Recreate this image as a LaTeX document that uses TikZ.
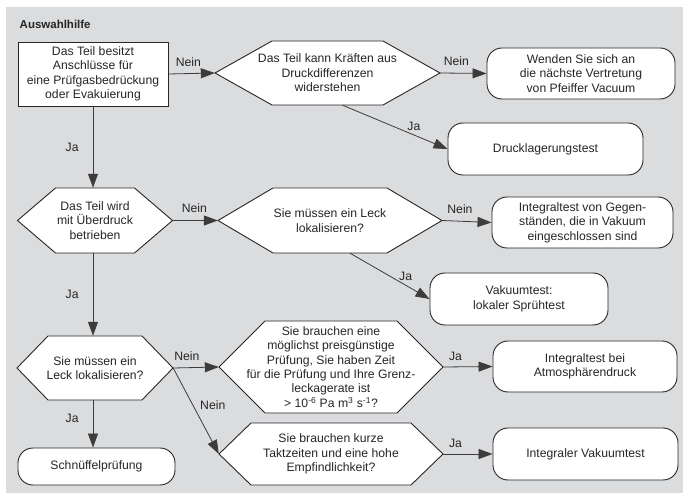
\documentclass[tikz,border=0pt]{standalone}
\usepackage{fontspec}
\setmainfont{Liberation Sans}
\usepackage{tikz}
\usetikzlibrary{arrows.meta, positioning, calc}
\definecolor{panelGray}{RGB}{219, 220, 222}
\definecolor{inkGray}{RGB}{38, 38, 38}
\definecolor{lineGray}{RGB}{60, 60, 60}

% hexagon: name, centre x, centre y, width, height, slant, text
\newcommand{\hexnode}[7]{%
  \filldraw[hexline] ({#2-#4/2},#3) -- ++(#6,{-#5/2}) -- ++({#4-2*#6},0)
    -- ++(#6,{#5/2}) -- ++({-#6},{#5/2}) -- ++({-(#4-2*#6)},0) -- cycle;
  \node[decision, minimum width=#4pt, minimum height=#5pt] (#1) at (#2,#3) {#7};
}

\begin{document}
\begin{tikzpicture}[
    x=1pt, y=-1pt,
    font=\fontsize{12.2}{14.4}\selectfont,
    every node/.style={text=inkGray},
    hexline/.style={draw=inkGray, fill=white, line width=0.9pt},
    decision/.style={align=center, inner sep=1pt},
    startbox/.style={rectangle, draw=inkGray, fill=white, line width=0.9pt, align=center, inner sep=2pt},
    outcome/.style={rectangle, draw=inkGray, fill=white, line width=0.9pt, rounded corners=15pt, align=center, inner sep=2pt},
    rel/.style={-{Triangle[length=14pt, width=10pt]}, line width=0.8pt, lineGray},
    lbl/.style={inner sep=1pt}
]
    \useasboundingbox (0,0) rectangle (683,494);
    \fill[panelGray] (6,7) rectangle (683,493);

    \node[anchor=west, inner sep=0pt, font=\fontsize{11.5}{14}\selectfont\bfseries] (title) at (19.5,24) {Auswahlhilfe};

    % Row 1: connections, pressure resistance
    \node[startbox, minimum width=150pt, minimum height=64pt] (parts) at (93,74) {
        Das Teil besitzt\\
        Anschlüsse für\\
        eine Prüfgasbedrückung\\
        oder Evakuierung
    };
    \hexnode{load}{327.5}{73}{225}{64}{57}{Das Teil kann Kräften aus\\Druckdifferenzen\\widerstehen}
    \node[outcome, minimum width=188pt, minimum height=51pt] (agency) at (581,73.5) {
        Wenden Sie sich an\\
        die nächste Vertretung\\
        von Pfeiffer Vacuum
    };
    \node[outcome, minimum width=195pt, minimum height=52pt] (pressure) at (545.5,149) {Drucklagerungstest};

    % Row 2: overpressure, locating leaks
    \hexnode{overpress}{95}{220.5}{155}{65}{38}{Das Teil wird\\mit Überdruck\\betrieben}
    \hexnode{locA}{330}{220.5}{224}{65}{55}{Sie müssen ein Leck\\lokalisieren?}
    \node[outcome, minimum width=181pt, minimum height=51pt] (enclosed) at (582.5,222.5) {
        Integraltest von Gegen-\\
        ständen, die in Vakuum\\
        eingeschlossen sind
    };
    \node[outcome, minimum width=178pt, minimum height=52pt] (spray) at (519,299) {
        Vakuumtest:\\
        lokaler Sprühtest
    };

    % Row 3: integral tests, sniffing
    \hexnode{locB}{95}{368}{156}{64}{31}{Sie müssen ein\\Leck lokalisieren?}
    \hexnode{cheap}{331}{367}{224}{92}{46}{Sie brauchen eine\\möglichst preisgünstige\\Prüfung, Sie haben Zeit\\für die Prüfung und Ihre Grenz-\\leckagerate ist\\> 10\textsuperscript{-6} Pa m\textsuperscript{3} s\textsuperscript{-1}?}
    \hexnode{fast}{331}{454}{224}{62}{32}{Sie brauchen kurze\\Taktzeiten und eine hohe\\Empfindlichkeit?}
    \node[outcome, minimum width=184pt, minimum height=51pt] (atmos) at (585,366.5) {
        Integraltest bei\\
        Atmosphärendruck
    };
    \node[outcome, minimum width=185pt, minimum height=52pt] (vacuum) at (585.5,454) {Integraler Vakuumtest};
    \node[outcome, minimum width=157pt, minimum height=37pt] (sniff) at (96.5,466.5) {Schnüffelprüfung};

    % Connections
    \draw[rel] (parts.east) -- node[lbl, pos=0.43, above=6pt] {Nein} (load.west);
    \draw[rel] (load.east) -- node[lbl, pos=0.35, above=6pt] {Nein} (agency.west);
    \draw[rel] ([xshift=15pt]load.south) -- node[lbl, pos=0.68, above=3pt] {Ja} (pressure.west);
    \draw[rel] (parts.south) -- node[lbl, left=13pt] {Ja} (parts.south |- overpress.north);
    \draw[rel] (overpress.east) -- node[lbl, pos=0.48, above=6pt] {Nein} (locA.west);
    \draw[rel] (locA.east) -- node[lbl, pos=0.36, above=6pt] {Nein} (enclosed.west);
    \draw[rel] ([xshift=20pt]locA.south) -- node[lbl, pos=0.7, above=3pt] {Ja} (spray.west);
    \draw[rel] (parts.south |- overpress.south) -- node[lbl, left=13pt] {Ja} (parts.south |- locB.north);
    \draw[rel] (locB.east) -- node[lbl, pos=0.3, above=6pt] {Nein} (cheap.west);
    \draw[rel] (locB.east) -- node[lbl, pos=0.43, right=6pt] {Nein} (fast.west);
    \draw[rel] (cheap.east) -- node[lbl, pos=0.25, above=5pt] {Ja} (atmos.west);
    \draw[rel] (fast.east) -- node[lbl, pos=0.25, above=5pt] {Ja} (vacuum.west);
    \draw[rel] (parts.south |- locB.south) -- node[lbl, pos=0.38, left=13pt] {Ja} (parts.south |- sniff.north);
\end{tikzpicture}
\end{document}
